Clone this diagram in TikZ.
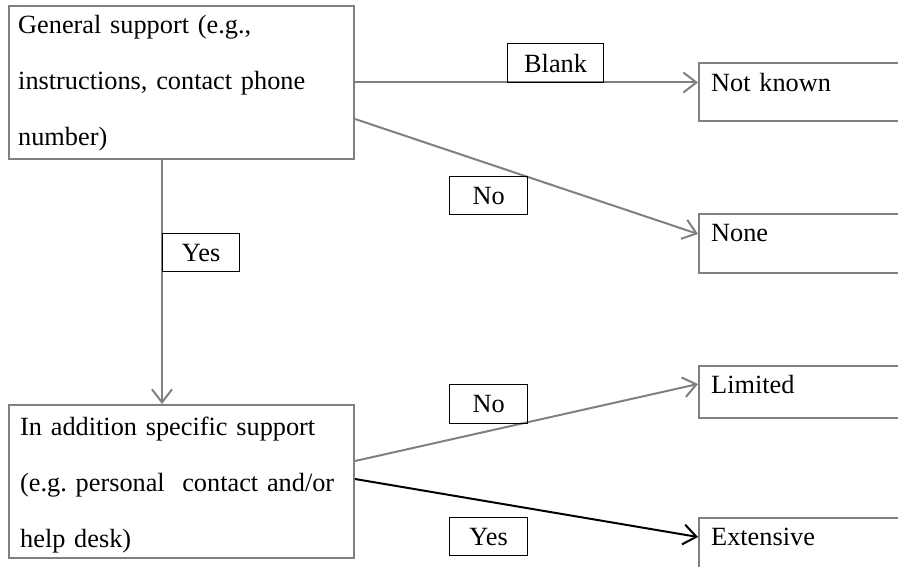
\documentclass[tikz,border=0pt]{standalone}
\usepackage{fontspec}
\setmainfont{Liberation Serif}
\usetikzlibrary{calc,arrows.meta}
\definecolor{linegray}{RGB}{128,128,128}
\newcommand{\dfont}{\fontsize{26.3pt}{56pt}\selectfont\frenchspacing\spaceskip=0.25em\relax}
\tikzset{
  bigbox/.style={draw=linegray, line width=2pt, rectangle, inner sep=0pt, anchor=north west},
  lblbox/.style={draw=black, line width=1.2pt, rectangle, inner sep=0pt, anchor=north west, font=\dfont},
  txt/.style={anchor=base west, inner sep=0pt, font=\dfont, align=left, text width=330pt},
  conn/.style={draw=linegray, line width=2pt, -{Straight Barb[length=13pt,width=20pt]}},
  connb/.style={draw=black, line width=2pt, -{Straight Barb[length=13pt,width=20pt]}}
}
\begin{document}
\begin{tikzpicture}[x=1pt,y=-1pt]
\useasboundingbox (0,0) rectangle (898,567);
\clip (0,0) rectangle (898,567);
% left boxes
\node[bigbox, minimum width=345pt, minimum height=153pt] (gen) at (8,5) {};
\node[txt] (gent) at (18,34) {General support (e.g.,\\instructions, contact phone\\number)};
\node[bigbox, minimum width=345pt, minimum height=153pt] (add) at (8,404) {};
\node[txt] (addt) at (20,435) {In addition specific support\\(e.g. personal\ \ contact and/or\\help desk)};
% right boxes (cut off at the right edge)
\node[bigbox, minimum width=260pt, minimum height=58pt] (nk) at (698,62) {};
\node[txt] (nkt) at (711,92) {Not known};
\node[bigbox, minimum width=260pt, minimum height=59pt] (none) at (698,213) {};
\node[txt] (nonet) at (711,242) {None};
\node[bigbox, minimum width=260pt, minimum height=52pt] (lim) at (698,365) {};
\node[txt] (limt) at (711,393) {Limited};
\node[bigbox, minimum width=260pt, minimum height=80pt] (ext) at (698,517) {};
\node[txt] (extt) at (711,545) {Extensive};
% connector end points
\coordinate (nostart) at ($(gen.north east)+(0,114)$);
\coordinate (noend) at ($(none.north west)+(0,21)$);
\coordinate (ysstart) at ($(gen.south west)+(154,0)$);
\coordinate (limstart) at ($(add.north east)+(0,57)$);
\coordinate (limend) at ($(lim.north west)+(0,19)$);
\coordinate (extstart) at ($(add.north east)+(0,75)$);
\coordinate (extend) at ($(ext.north west)+(0,20)$);
% connectors
\draw[conn] (gen.east) -- (gen.east -| nk.west);
\draw[conn] (nostart) -- (noend);
\draw[conn] (ysstart) -- (ysstart |- add.north);
\draw[conn] (limstart) -- (limend);
\draw[connb] (extstart) -- (extend);
% labels
\node[lblbox, minimum width=96pt, minimum height=39pt] (lblank) at (507,43) {Blank};
\node[lblbox, minimum width=78pt, minimum height=38pt] (lno1) at (449,176) {No};
\node[lblbox, minimum width=77pt, minimum height=38pt] (lyes1) at (162,233) {Yes};
\node[lblbox, minimum width=78pt, minimum height=39pt] (lno2) at (449,384) {No};
\node[lblbox, minimum width=78pt, minimum height=38pt] (lyes2) at (449,517) {Yes};
\end{tikzpicture}
\end{document}
